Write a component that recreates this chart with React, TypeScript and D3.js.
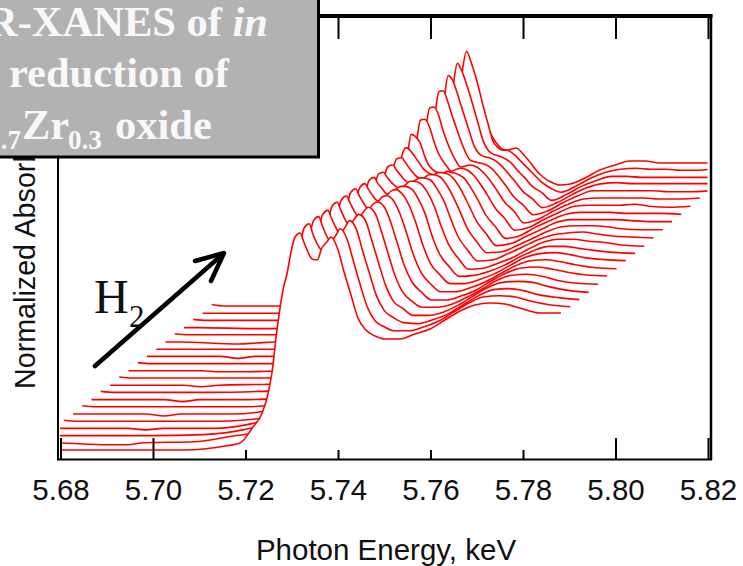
import React from 'react';
import * as d3 from 'd3';

// Energy grid of the front scan, keV
const energies = [
  5.6726, 5.6755, 5.6884, 5.6923, 5.696, 5.7068, 5.7155, 5.7187,
  5.7215, 5.7235, 5.7248, 5.7256, 5.7267, 5.728, 5.7289, 5.7297, 5.7306, 5.7317,
  5.7325, 5.7334, 5.7343, 5.7354, 5.7364, 5.7375, 5.7384, 5.7399, 5.7412, 5.7427, 5.7442, 5.7459, 5.7479, 5.7501,
  5.7533, 5.7565, 5.7598, 5.763, 5.7663, 5.7695, 5.7728, 5.776, 5.7792, 5.7836, 5.7881,
];

// Absorbance of each scan, front to back (arbitrary units, no y ticks on the chart)
const scan00 = [0,0,0,0,0,0,4,7, 23,37,57,77,120,160,177,197,213,217, 208,198,191,190,202,208,213,200,178,155,132,120,114,111, 111,116,121,130,139,145,147,146,142,137,137];
const scan01 = [0,0,-2,-2,0,1,7,9, 24,38,58,78,120,160,178,198,215,219, 208,199,193,192,200,208,214,203,182,158,136,122,116,112, 112,116,122,131,140,146,147,146,142,138,136];
const scan02 = [0,0,0,0,0,1,6,10, 24,38,58,78,120,160,178,198,215,219, 210,200,194,193,201,209,215,206,185,162,140,125,118,113, 112,116,122,131,140,146,147,145,141,138,136];
const scan03 = [0,0,0,-1.5,0,0,5,9, 24,38,58,78,120,160,178,198,214,218, 210,201,195,194,202,210,214,207,188,165,143,127,120,113, 113,116,123,132,141,146,147,146,142,138,136];
const scan04 = [1,0,0,0,0,0,3,7, 24,38,58,78,120,160,178,198,215,219, 211,202,196,195,202,210,214,208,191,168,146,129,120,114, 114,117,124,132,141,146,147,145,141,138,137];
const scan05 = [0,0,0,-2,0,0,4,8, 24,38,58,78,120,160,178,198,214,218, 211,203,197,196,203,210,212,207,193,171,149,132,122,114, 114,118,124,133,141,146,147,145,142,139,138];
const scan06 = [1,0,0,0,0,0,2,7, 24,38,58,78,120,160,178,198,214,218, 211,204,198,197,204,210,211,206,194,174,152,134,123,115, 115,119,125,133,141,146,147,145,142,139,138];
const scan07 = [0,0,0,-2,0,0,3,7, 24,38,58,78,120,160,178,197,212,216, 210,204,199,198,204,209,210,205,195,177,155,136,125,116, 116,120,126,134,142,146,147,145,142,140,139];
const scan08 = [1,0,0,0,0,1,3,7, 24,38,58,78,120,160,178,196,212,215, 209,204,199,198,203,206,206,203,194,179,157,138,126,116, 117,121,127,135,142,146,146,144,142,140,139];
const scan09 = [0,0,0,-1.5,0,1,3,7, 24,38,58,78,120,160,178,195,211,213, 208,203,199,197,200,204,204,201,193,179,159,140,127,116, 117,122,128,136,143,146,146,144,143,140,139];
const scan10 = [1,0,0,0,0,0,3,6, 24,38,58,78,120,160,178,195,211,213, 208,203,198,195,197,200,200,198,190,178,160,141,128,117, 118,124,131,138,143,145,146,144,142,141,140];
const scan11 = [0,0,0,-1,-1,0,2,6, 24,38,58,80,122,162,182,200,212,213, 208,202,197,193,193,196,196,194,187,175,160,142,129,118, 119,125,132,139,144,145,145,144,142,141,141];
const scan12 = [1,0,0,0,0,0,2,6, 24,40,60,82,126,168,190,208,216,212, 207,201,195,191,189,191,191,189,183,172,158,142,130,118, 120,127,134,141,144,144,144,144,143,142,142];
const scan13 = [0,0,0,-2,0,0,2,6, 25,40,62,85,130,175,200,222,220,213, 202,192,187,184,183,185,184,182,178,168,156,141,130,118, 121,129,136,142,144,144,144,143,143,143,142];
const scan14 = [0,0,0,0,0,0,2,6, 25,42,64,88,134,180,208,229,230,222, 210,198,190,183,178,180,181,179,174,165,154,141,131,119, 122,130,137,143,144,144,144,145,143,142,143];
const scan15 = [0,0,-2,-1,0,0,2,5, 26,42,65,90,138,185,214,234,235,226, 213,201,191,181,175,176,177,175,170,162,152,140,131,119, 123,131,138,143,144,144,144,144,143,143,144];
const scan16 = [1,0,0,0,0,0,2,5, 26,44,66,92,140,190,222,243,244,232, 220,208,196,183,175,173,172,170,166,158,149,138,130,120, 124,132,139,144,144,144,144,144,143,143,144];
const scan17 = [0,0,-1,-1,0,0,2,5, 26,44,68,94,144,196,230,252,248,234, 222,209,196,181,174,171,170,167,162,154,146,136,129,120, 125,133,140,144,145,144,144,144,144,144,144];
const scan18 = [1,0,0,0,0,0,1,5, 26,45,70,96,148,202,238,257,250,236, 224,210,195,178,170,166,165,162,158,150,143,134,128,120, 126,134,140,144,144,143,143,143,143,143,143];
const scan19 = [0,0,0,0,0,0,1,5, 27,46,72,100,152,208,246,262,252,236, 222,205,190,172,166,163,163,159,153,146,139,131,125,121, 127,135,141,144,145,144,144,143,143,144,144];
const scan20 = [1.5,0,0,0,0,0,1,5, 24,38,58,80,122,150,165,175,180,180, 176,168,162,157,156,157,158,152,145,136,129,124,121,122, 128,136,141,145,145,143,143,143,143,143,143];
const scans = [scan00, scan01, scan02, scan03, scan04, scan05, scan06, scan07, scan08, scan09, scan10,
  scan11, scan12, scan13, scan14, scan15, scan16, scan17, scan18, scan19, scan20];

const xTicks = [5.68, 5.7, 5.72, 5.74, 5.76, 5.78, 5.8, 5.82];
const shortBottomTicks = [5.72, 5.74, 5.76, 5.78];
const topTicks = [5.74, 5.76, 5.78, 5.8, 5.82];

// waterfall step between scans
const energyStep = 0.002;
const absorbanceStep = 7.2;

const W = 743;
const H = 566;
const sans = '"Liberation Sans", Arial, sans-serif';
const serif = '"Liberation Serif", "Times New Roman", serif';

const x = d3.scaleLinear().domain([5.68, 5.82]).range([61, 708.5]);
const y = d3.scaleLinear().domain([0, 450]).range([450, 0]);

export default function App() {
  const format = d3.format('.2f');

  return (
    <svg width={W} height={H} style={{ position: 'absolute', left: 0, top: 0, display: 'block' }}>
      <defs>
        <clipPath id="plot">
          <rect x={60} y={0} width={647.5} height={459} />
        </clipPath>
      </defs>
      <rect width={W} height={H} fill="#fff" />

      {/* back scans first, the white area under each one hides what is behind it */}
      <g clipPath="url(#plot)">
        {d3.range(scans.length - 1, -1, -1).map((i) => {
          const rows = energies.map((e, k) => [e + i * energyStep, scans[i][k] + i * absorbanceStep]);
          const line = d3.line().x((d) => x(d[0])).y((d) => y(d[1])).curve(d3.curveMonotoneX);
          const area = d3.area().x((d) => x(d[0])).y0(458).y1((d) => y(d[1])).curve(d3.curveMonotoneX);
          return (
            <g key={i}>
              <path d={area(rows as any) as string} fill="#fff" stroke="none" />
              <path d={line(rows as any) as string} fill="none" stroke="#ff0000" strokeWidth={1.6} />
            </g>
          );
        })}
      </g>

      {/* frame */}
      <g stroke="#000" fill="none">
        <line x1={58} x2={58} y1={150} y2={460} strokeWidth={2} />
        <line x1={57} x2={712} y1={459.5} y2={459.5} strokeWidth={2} />
        <line x1={711} x2={711} y1={14} y2={460} strokeWidth={2.5} />
        <line x1={300} x2={712.5} y1={16} y2={16} strokeWidth={4} />
        {xTicks.map((t) => (
          <line key={t} x1={x(t)} x2={x(t)} y1={shortBottomTicks.includes(t) ? 450 : 438} y2={459} strokeWidth={2} />
        ))}
        {topTicks.map((t) => (
          <line key={t} x1={x(t)} x2={x(t)} y1={16} y2={39} strokeWidth={2} />
        ))}
      </g>

      <g fontFamily={sans} fontSize={29.5} fill="#111">
        {xTicks.map((t) => (
          <text key={t} x={x(t)} y={500} textAnchor="middle">{format(t)}</text>
        ))}
        <text x={386} y={560} textAnchor="middle">Photon Energy, keV</text>
        <text transform="translate(35,389) rotate(-90)" fontSize={28.7}>Normalized Absorbance</text>
      </g>

      {/* H2 arrow */}
      <g stroke="#000" strokeWidth={4.5} strokeLinecap="round" strokeLinejoin="round" fill="none">
        <line x1={95} y1={366} x2={223} y2={254} />
        <polyline points="195,261 224,253 211,281" />
      </g>
      <text x={94} y={313} fontFamily={serif} fontSize={48} fill="#111">H</text>
      <text x={129} y={327} fontFamily={serif} fontSize={31} fill="#111">2</text>

      {/* title box sits over the top left corner and runs off the page */}
      <rect x={-10} y={-10} width={328.5} height={167} fill="#b2b2b2" stroke="#000" strokeWidth={3} />
      <g fontFamily={serif} fontWeight="bold" fontSize={42.5} fill="#f8f8f8">
        <text x={268} y={36} textAnchor="end">
          R-XANES of <tspan fontStyle="italic">in</tspan>
        </text>
        <text x={9} y={87}>reduction of</text>
        <text x={21} y={149} fontSize={27} textAnchor="end">.7</text>
        <text x={22} y={139}>Zr</text>
        <text x={68} y={149} fontSize={27}>0.3</text>
        <text x={115} y={139}>oxide</text>
      </g>
    </svg>
  );
}
